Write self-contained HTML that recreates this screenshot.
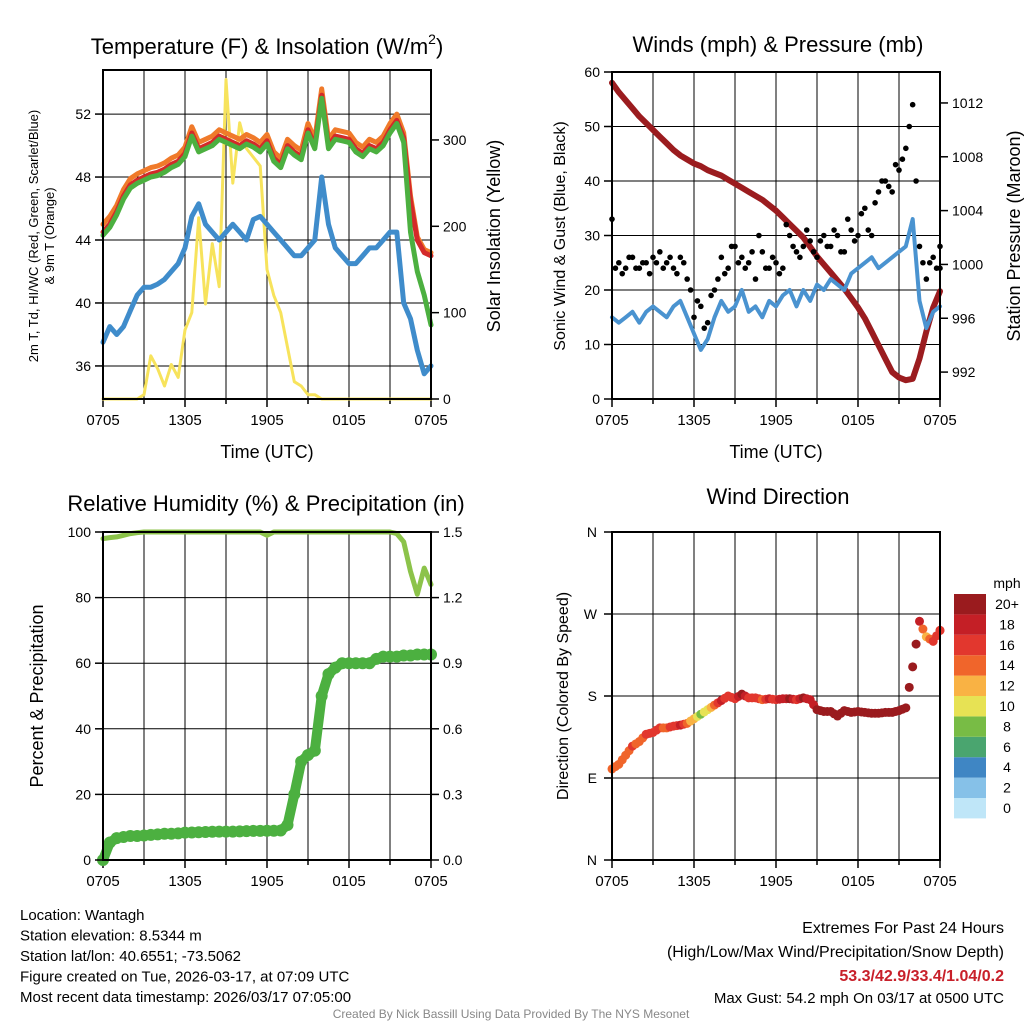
<!DOCTYPE html>
<html><head><meta charset="utf-8"><style>
html,body{margin:0;padding:0;background:#fff;}
svg text{font-family:"Liberation Sans",sans-serif;fill:#000;}
</style></head><body>
<svg id="c" width="1024" height="1024" viewBox="0 0 1024 1024" xmlns="http://www.w3.org/2000/svg"></svg>
<script>
const timeLabels=["0705","1305","1905","0105","0705"];
const temp=[44.5,45,45.8,46.8,47.5,47.8,48,48.2,48.3,48.5,48.8,49,49.5,50.8,49.8,50,50.2,50.6,50.4,50.2,50,50.3,50.1,49.8,50.3,49.2,48.8,50,49.6,49.3,51,50,53.2,50,50.6,50.5,50.4,49.8,49.5,50,49.8,50.2,51,51.6,50.5,46.5,44,43.2,43];
const hiwc=[44.3,44.8,45.6,46.6,47.3,47.6,47.8,48,48.1,48.3,48.6,48.8,49.3,50.6,49.6,49.8,50,50.4,50.2,50,49.8,50.1,49.9,49.6,50.1,49,48.6,49.8,49.4,49.1,50.8,49.8,53,49.8,50.4,50.3,50.2,49.6,49.3,49.8,49.6,50,50.8,51.4,50.2,44.5,42,40.5,38.6];
const temp9m=[45,45.5,46.2,47.2,47.9,48.2,48.4,48.6,48.7,48.9,49.2,49.4,49.9,51.2,50.2,50.4,50.6,51,50.8,50.6,50.4,50.7,50.5,50.2,50.7,49.6,49.2,50.4,50,49.7,51.4,50.4,53.6,50.4,51,50.9,50.8,50.2,49.9,50.4,50.2,50.6,51.4,52,50.8,46.8,44.2,43.4,43.2];
const dewpt=[37.5,38.5,38,38.5,39.5,40.5,41,41,41.2,41.5,42,42.5,43.5,45.5,46.3,45,44.5,44,44.5,45,44.5,44,45.3,45.5,45,44.5,44,43.5,43,43,43.5,44,48,45,43.5,43,42.5,42.5,43,43.5,43.5,44,44.5,44.5,40,39,37,35.5,36];
const solar=[0,0,0,0,0,0,5,50,35,15,40,25,80,100,210,110,180,130,370,250,320,290,280,270,150,120,100,60,20,15,5,5,0,0,0,0,0,0,0,0,0,0,0,0,0,0,0,0,0];
const wind=[15,14,15,16,14,16,17,16,15,17,18,15,12,9,11,15,18,16,17,20,16,17,15,18,17,19,20,17,20,18,21,20,22,21,20,23,24,25,26,24,25,26,27,28,33,18,13,16,17];
const gustA=[33,25,24,26,24,25,26,27,25,24,26,22,15,17,14,20,26,24,28,26,25,22,27,24,25,24,30,27,28,29,26,30,28,30,27,31,30,35,30,38,40,38,42,46,54,28,22,26,24];
const gustB=[24,23,26,24,25,23,25,24,26,23,25,20,18,13,19,22,23,28,25,24,27,30,24,26,23,32,28,26,31,27,29,28,31,27,33,29,34,31,36,40,39,43,44,50,40,25,25,24,28];
const pressure=[1013.5,1012.8,1012.2,1011.6,1011,1010.5,1010,1009.5,1009,1008.5,1008.1,1007.8,1007.5,1007.3,1007,1006.8,1006.6,1006.3,1006,1005.7,1005.4,1005.1,1004.8,1004.4,1004,1003.5,1003,1002.5,1002,1001.3,1000.6,1000,999.4,998.8,998.2,997.5,996.8,996,995,994,993,992,991.6,991.4,991.5,993,995,996.8,998];
const rh=[98,98.3,98.5,99,99.5,99.8,100,100,100,100,100,100,100,100,100,100,100,100,100,100,100,100,100,100,99,100,100,100,100,100,100,100,100,100,100,100,100,100,100,100,100,100,100,99.5,97,88,81,89,84];
const precip=[0,0.08,0.1,0.105,0.11,0.11,0.112,0.115,0.117,0.12,0.12,0.122,0.125,0.126,0.127,0.128,0.129,0.13,0.13,0.13,0.131,0.132,0.133,0.133,0.134,0.134,0.135,0.16,0.3,0.45,0.48,0.5,0.75,0.85,0.88,0.9,0.9,0.9,0.9,0.9,0.92,0.93,0.93,0.93,0.935,0.935,0.94,0.94,0.94];
const windDir=[100,105,115,125,130,138,140,145,145,147,148,150,155,160,165,170,175,180,177,182,178,178,176,177,176,177,177,176,178,176,165,163,163,158,164,162,163,162,161,161,162,162,164,167,212,262,245,240,252];
const speedBins=["0","2","4","6","8","10","12","14","16","18","20+"];
const binColors=["#bfe6f8","#86c1e8","#3f86c4","#4aa56f","#78bc45","#e7e254","#f9b244","#f0652b","#e2372e","#c41f26","#9a1b1e"];

const S=document.getElementById('c');const NS="http://www.w3.org/2000/svg";
function el(t,a,p){const e=document.createElementNS(NS,t);for(const k in a)e.setAttribute(k,a[k]);(p||S).appendChild(e);return e;}
function txt(x,y,s,size,anchor,extra){const e=el('text',Object.assign({x:x,y:y,'font-size':size,'text-anchor':anchor||'middle'},extra||{}));e.textContent=s;return e;}
const N=temp.length;
function mkX(x0,w){return i=>x0+i*w/(N-1);}
function mkY(y0,h,lo,hi){return v=>y0+h-(v-lo)/(hi-lo)*h;}
function frame(name,x0,y0,w,h){
  const g=el('g',{});
  
  
  el('rect',{x:x0,y:y0,width:w,height:h,fill:'#fff'},g);
  for(let k=0;k<=8;k++){const x=x0+k*w/8;el('line',{x1:x,y1:y0,x2:x,y2:y0+h,stroke:'#000','stroke-width':1},g);
    el('line',{x1:x,y1:y0+h,x2:x,y2:y0+h+(k%2?5:8),stroke:'#000','stroke-width':1.5},g);}
  timeLabels.forEach((l,k)=>{const t=txt(x0+k*w/4,y0+h+26,l,15);});
  return g;
}
function border(x0,y0,w,h){el('rect',{x:x0,y:y0,width:w,height:h,fill:'none',stroke:'#000','stroke-width':2});}
function line(arr,X,Y,color,wd,name){
  let d='';arr.forEach((v,i)=>{d+=(i?'L':'M')+X(i).toFixed(1)+','+Y(v).toFixed(1);});
  const p=el('path',{d:d,fill:'none',stroke:color,'stroke-width':wd,'stroke-linejoin':'round','stroke-linecap':'round'});
  
  
  return p;
}
function yTicks(vals,Y,x,side,fmt,size){
  vals.forEach(v=>{const y=Y(v);el('line',{x1:x,y1:y,x2:x+(side<0?-8:8),y2:y,stroke:'#000','stroke-width':1.5});
    const t=txt(x+(side<0?-12:12),y+5,fmt(v),size||14,side<0?'end':'start');
    
    });
}

// Panel 1
(function(){
  const x0=103,y0=70,w=328,h=329;
  frame('temperature-panel',x0,y0,w,h);
  const X=mkX(x0,w),Y=mkY(y0,h,33.9,54.8),Ys=mkY(y0,h,0,381);
  [36,40,44,48,52].forEach(v=>el('line',{x1:x0,y1:Y(v),x2:x0+w,y2:Y(v),stroke:'#000','stroke-width':1}));
  line(solar,X,Ys,'#f7e35c',3,'solar-line');
  line(dewpt,X,Y,'#3f8ccb',5,'dewpoint-line');
  line(temp9m,X,Y,'#f07a2a',5,'temp-9m-line');
  line(temp,X,Y,'#d42a2a',5,'temp-2m-line');
  line(hiwc,X,Y,'#4cb040',5,'heat-index-line');
  border(x0,y0,w,h);
  yTicks([36,40,44,48,52],Y,x0,-1,v=>v,14);
  yTicks([0,100,200,300],Ys,x0+w,1,v=>v,14);
  const t=el('text',{x:267,y:54,'font-size':22,'text-anchor':'middle'});
  
  
  t.innerHTML='Temperature (F) &amp; Insolation (W/m<tspan font-size="14" dy="-10">2</tspan><tspan dy="10">)</tspan>';
  txt(267,458,'Time (UTC)',18);
  const yl=el('text',{x:0,y:0,'font-size':13,'text-anchor':'middle',transform:'translate(38,236) rotate(-90)'});
  yl.textContent='2m T, Td, HI/WC (Red, Green, Scarlet/Blue)';
  
  const yl2=el('text',{x:0,y:0,'font-size':13,'text-anchor':'middle',transform:'translate(54,236) rotate(-90)'});yl2.textContent='& 9m T (Orange)';
  const yr=el('text',{x:0,y:0,'font-size':18,'text-anchor':'middle',transform:'translate(500,236) rotate(-90)'});yr.textContent='Solar Insolation (Yellow)';
  
})();

// Panel 2
(function(){
  const x0=612,y0=72,w=328,h=327;
  frame('winds-panel',x0,y0,w,h);
  const X=mkX(x0,w),Y=mkY(y0,h,0,60),Yp=mkY(y0,h,990,1014.3);
  [10,20,30,40,50].forEach(v=>el('line',{x1:x0,y1:Y(v),x2:x0+w,y2:Y(v),stroke:'#000','stroke-width':1}));
  line(pressure,X,Yp,'#9b1c1f',6,'pressure-line');
  line(wind,X,Y,'#4a93d0',4,'sonic-wind-line');
  gustA.forEach((v,i)=>{const c=el('circle',{cx:X(i),cy:Y(v),r:2.8,fill:'#000'});});
  gustB.forEach((v,i)=>{const c=el('circle',{cx:X(i+0.5>N-1?N-1:i+0.5),cy:Y(v),r:2.8,fill:'#000'});});
  border(x0,y0,w,h);
  yTicks([0,10,20,30,40,50,60],Y,x0,-1,v=>v,14);
  yTicks([992,996,1000,1004,1008,1012],Yp,x0+w,1,v=>v,14);
  txt(778,52,'Winds (mph) & Pressure (mb)',22);
  txt(776,458,'Time (UTC)',18);
  const yl=el('text',{x:0,y:0,'font-size':16,'text-anchor':'middle',transform:'translate(565,236) rotate(-90)'});yl.textContent='Sonic Wind & Gust (Blue, Black)';
  const yr=el('text',{x:0,y:0,'font-size':18,'text-anchor':'middle',transform:'translate(1020,236) rotate(-90)'});yr.textContent='Station Pressure (Maroon)';
})();

// Panel 3
(function(){
  const x0=103,y0=532,w=328,h=328;
  frame('humidity-panel',x0,y0,w,h);
  const X=mkX(x0,w),Y=mkY(y0,h,0,100),Yp=mkY(y0,h,0,1.5);
  [20,40,60,80].forEach(v=>el('line',{x1:x0,y1:Y(v),x2:x0+w,y2:Y(v),stroke:'#000','stroke-width':1}));
  line(rh,X,Y,'#8cc34a',5,'rh-line');
  precip.forEach((v,i)=>{const c=el('circle',{cx:X(i),cy:Yp(v),r:6,fill:'#4cb040'});});
  line(precip,X,Yp,'#4cb040',10,'precip-line');
  border(x0,y0,w,h);
  yTicks([0,20,40,60,80,100],Y,x0,-1,v=>v,14);
  yTicks([0,0.3,0.6,0.9,1.2,1.5],Yp,x0+w,1,v=>v.toFixed(1),14);
  txt(266,511,'Relative Humidity (%) & Precipitation (in)',22);
  const yl=el('text',{x:0,y:0,'font-size':18,'text-anchor':'middle',transform:'translate(43,696) rotate(-90)'});yl.textContent='Percent & Precipitation';
})();

// Panel 4
(function(){
  const x0=612,y0=532,w=328,h=328;
  frame('wind-direction-panel',x0,y0,w,h);
  const X=mkX(x0,w),Y=mkY(y0,h,0,360);
  [90,180,270].forEach(v=>el('line',{x1:x0,y1:Y(v),x2:x0+w,y2:Y(v),stroke:'#000','stroke-width':1}));
  function col(s){let b=Math.floor(s/2);if(b>10)b=10;return binColors[b];}
  windDir.forEach((v,i)=>{const c=el('circle',{cx:X(i),cy:Y(v),r:4.5,fill:col(wind[i])});
    const c2=el('circle',{cx:X(Math.min(N-1,i+0.5)),cy:Y(i<N-1?(v+windDir[i+1])/2:v),r:4.5,fill:col(i<N-1?(wind[i]+wind[i+1])/2:wind[i])});});
  border(x0,y0,w,h);
  const labs=['N','E','S','W','N'];
  [0,90,180,270,360].forEach((v,k)=>{el('line',{x1:x0,y1:Y(v),x2:x0-8,y2:Y(v),stroke:'#000','stroke-width':1.5});txt(x0-15,Y(v)+5,labs[k],14,'end');});
  txt(778,504,'Wind Direction',22);
  const yl=el('text',{x:0,y:0,'font-size':16,'text-anchor':'middle',transform:'translate(568,696) rotate(-90)'});yl.textContent='Direction (Colored By Speed)';
  const cb=el('g',{});
  const bx=954,by=594,bh=20.4;
  txt(1007,588,'mph',14,'middle');
  speedBins.forEach((l,k)=>{const yy=by+(10-k)*bh;el('rect',{x:bx,y:yy,width:32,height:bh,fill:binColors[k]},cb);
    const t=txt(1007,yy+15,l,14,'middle');});
})();

// Footer
const fl=["Location: Wantagh","Station elevation: 8.5344 m","Station lat/lon: 40.6551; -73.5062","Figure created on Tue, 2026-03-17, at 07:09 UTC","Most recent data timestamp: 2026/03/17 07:05:00"];
fl.forEach((s,k)=>{const t=txt(20,920+k*20.5,s,15,'start');});
txt(1004,933,'Extremes For Past 24 Hours',16,'end');
txt(1004,957,'(High/Low/Max Wind/Precipitation/Snow Depth)',16,'end');
const ex=txt(1004,981,'53.3/42.9/33.4/1.04/0.2',16,'end',{'font-weight':'bold'});ex.style.fill='#c8202a';
txt(1004,1003,'Max Gust: 54.2 mph On 03/17 at 0500 UTC',15,'end');
const cr=txt(511,1018,'Created By Nick Bassill Using Data Provided By The NYS Mesonet',12,'middle');cr.style.fill='#888';
</script>
</body></html>
